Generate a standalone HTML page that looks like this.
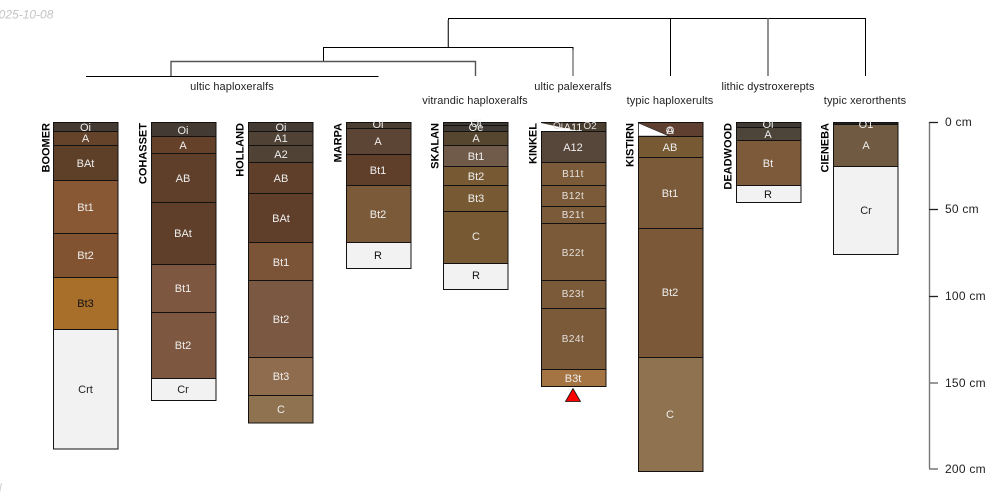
<!DOCTYPE html>
<html><head><meta charset="utf-8"><style>
html,body{margin:0;padding:0;background:#fff}
svg{display:block}
text{font-family:"Liberation Sans",sans-serif;font-size:11px}
text.l{fill:#eee;text-anchor:middle}
text.d{fill:#222;text-anchor:middle}
text.k{fill:#111;text-anchor:middle}
text.s{font-size:10px;letter-spacing:.5px;fill:#e4e0dc}
text.n{font-weight:bold;text-anchor:end;fill:#000;font-size:11px}
text.t{fill:#222;text-anchor:middle;letter-spacing:.1px}
text.a{fill:#222;font-size:12px;letter-spacing:.25px}
rect{stroke:#141210;stroke-width:1}
</style></head><body>
<svg width="1000" height="500" viewBox="0 0 1000 500" xmlns="http://www.w3.org/2000/svg">
<g fill="none" stroke="#000" stroke-width="1">
<path d="M448.5 47V18.5H865.5V76"/><path d="M670.5 18.5V76"/>
<path d="M768 18.5V76" stroke="#777" stroke-width="1.6"/>
<path d="M323.5 61V47.5H573V76"/><path d="M573 50V76" stroke="#777" stroke-width="1.4"/>
<path d="M448 20V47" stroke="#777" stroke-width="1"/>
<path d="M171 76V61.5H475.5V76" stroke="#555" stroke-width="1.4"/>
<path d="M86 76.5H378.5"/>
<path d="M929.5 122V468.5M929 122.5H938M929 209.5H938M929 296.5H938M929 383H938M929 469H938" stroke="#777" stroke-width="1.4"/>
<path d="M929 122.5H938M929 209.5H938M929 296.5H938" stroke="#222"/>
</g>
<text class="t" x="232" y="90">ultic haploxeralfs</text>
<text class="t" x="475" y="104">vitrandic haploxeralfs</text>
<text class="t" x="573" y="90">ultic palexeralfs</text>
<text class="t" x="670" y="104">typic haploxerults</text>
<text class="t" x="768" y="90">lithic dystroxerepts</text>
<text class="t" x="865" y="104">typic xerorthents</text>
<text x="-8" y="18.5" style="font-size:12px;fill:#c4c4c4;font-style:italic">2025-10-08</text>
<text x="-1" y="492" style="font-size:12px;fill:#d0d0d0;font-style:italic">l</text>

<g transform="translate(49.5,123) rotate(-90)"><text class="n">BOOMER</text></g>
<g transform="translate(146.5,123) rotate(-90)"><text class="n">COHASSET</text></g>
<g transform="translate(243.5,123) rotate(-90)"><text class="n">HOLLAND</text></g>
<g transform="translate(341.5,123) rotate(-90)"><text class="n">MARPA</text></g>
<g transform="translate(438.5,123) rotate(-90)"><text class="n">SKALAN</text></g>
<g transform="translate(536.5,123) rotate(-90)"><text class="n">KINKEL</text></g>
<g transform="translate(633.5,123) rotate(-90)"><text class="n">KISTIRN</text></g>
<g transform="translate(731.5,123) rotate(-90)"><text class="n">DEADWOOD</text></g>
<g transform="translate(828.5,123) rotate(-90)"><text class="n">CIENEBA</text></g>

<!-- BOOMER -->
<rect x="53.5" y="122.5" width="64.5" height="9" fill="#433a33"/>
<rect x="53.5" y="131.5" width="64.5" height="14" fill="#65432a"/>
<rect x="53.5" y="145.5" width="64.5" height="35" fill="#5e4028"/>
<rect x="53.5" y="180.5" width="64.5" height="53" fill="#885733"/>
<rect x="53.5" y="233.5" width="64.5" height="44" fill="#825330"/>
<rect x="53.5" y="277.5" width="64.5" height="52" fill="#a86f2b"/>
<rect x="53.5" y="329.5" width="64.5" height="119.5" fill="#f2f2f2"/>
<text class="l" x="85.5" y="131">Oi</text><text class="l" x="85.5" y="142">A</text><text class="l" x="85.5" y="167">BAt</text><text class="l" x="85.5" y="211">Bt1</text><text class="l" x="85.5" y="259">Bt2</text><text class="k" x="85.5" y="307">Bt3</text><text class="d" x="85.5" y="393">Crt</text>

<!-- COHASSET -->
<rect x="151.5" y="122.5" width="64.5" height="14" fill="#433a33"/>
<rect x="151.5" y="136.5" width="64.5" height="17" fill="#65412a"/>
<rect x="151.5" y="153.5" width="64.5" height="49" fill="#5f3f2a"/>
<rect x="151.5" y="202.5" width="64.5" height="62" fill="#5f3f2a"/>
<rect x="151.5" y="264.5" width="64.5" height="48" fill="#7d573f"/>
<rect x="151.5" y="312.5" width="64.5" height="66" fill="#7d573f"/>
<rect x="151.5" y="378.5" width="64.5" height="22" fill="#f2f2f2"/>
<text class="l" x="183" y="134">Oi</text><text class="l" x="183" y="149">A</text><text class="l" x="183" y="182">AB</text><text class="l" x="183" y="237">BAt</text><text class="l" x="183" y="292">Bt1</text><text class="l" x="183" y="349">Bt2</text><text class="d" x="183" y="393">Cr</text>

<!-- HOLLAND -->
<rect x="248.5" y="122.5" width="64.5" height="9" fill="#433a33"/>
<rect x="248.5" y="131.5" width="64.5" height="14" fill="#504234"/>
<rect x="248.5" y="145.5" width="64.5" height="17" fill="#504234"/>
<rect x="248.5" y="162.5" width="64.5" height="31" fill="#5f3f2a"/>
<rect x="248.5" y="193.5" width="64.5" height="49" fill="#5f3f2a"/>
<rect x="248.5" y="242.5" width="64.5" height="38" fill="#7b5438"/>
<rect x="248.5" y="280.5" width="64.5" height="77" fill="#7b5842"/>
<rect x="248.5" y="357.5" width="64.5" height="38" fill="#8f6c4e"/>
<rect x="248.5" y="395.5" width="64.5" height="27.5" fill="#8f7350"/>
<text class="l" x="281" y="131">Oi</text><text class="l" x="281" y="142">A1</text><text class="l" x="281" y="158">A2</text><text class="l" x="281" y="182">AB</text><text class="l" x="281" y="222">BAt</text><text class="l" x="281" y="266">Bt1</text><text class="l" x="281" y="323">Bt2</text><text class="l" x="281" y="380">Bt3</text><text class="l" x="281" y="413">C</text>

<!-- MARPA -->
<rect x="346.5" y="122.5" width="64.5" height="6" fill="#4a3e33"/>
<rect x="346.5" y="128.5" width="64.5" height="26" fill="#5c4534"/>
<rect x="346.5" y="154.5" width="64.5" height="31" fill="#5f3f2a"/>
<rect x="346.5" y="185.5" width="64.5" height="57" fill="#7b5a3a"/>
<rect x="346.5" y="242.5" width="64.5" height="26" fill="#f2f2f2"/>
<text class="l" x="378" y="128">Oi</text><text class="l" x="378" y="145">A</text><text class="l" x="378" y="174">Bt1</text><text class="l" x="378" y="218">Bt2</text><text class="k" x="378" y="259">R</text>

<!-- SKALAN -->
<rect x="443.5" y="122.5" width="64.5" height="3" fill="#3e3a33"/>
<rect x="443.5" y="125.5" width="64.5" height="6" fill="#3e3a33"/>
<rect x="443.5" y="131.5" width="64.5" height="14" fill="#57462f"/>
<rect x="443.5" y="145.5" width="64.5" height="21" fill="#705b4b"/>
<rect x="443.5" y="166.5" width="64.5" height="19" fill="#775a33"/>
<rect x="443.5" y="185.5" width="64.5" height="26" fill="#775a33"/>
<rect x="443.5" y="211.5" width="64.5" height="52" fill="#775a33"/>
<rect x="443.5" y="263.5" width="64.5" height="26" fill="#f2f2f2"/>
<text class="l" x="476" y="127">Oi</text><text class="l" x="476" y="131">Oe</text><text class="l" x="476" y="142">A</text><text class="l" x="476" y="160">Bt1</text><text class="l" x="476" y="180">Bt2</text><text class="l" x="476" y="202">Bt3</text><text class="l" x="476" y="240">C</text><text class="k" x="476" y="279">R</text>

<!-- KINKEL -->
<rect x="541.5" y="122.5" width="64.5" height="9" fill="#4a3e30"/>
<polygon points="541,123 541,131 578,131" fill="#fff"/>
<rect x="541.5" y="131.5" width="64.5" height="31" fill="#57463a"/>
<rect x="541.5" y="162.5" width="64.5" height="23" fill="#7b5a3a"/>
<rect x="541.5" y="185.5" width="64.5" height="21" fill="#7b5a3a"/>
<rect x="541.5" y="206.5" width="64.5" height="17" fill="#7b5a3a"/>
<rect x="541.5" y="223.5" width="64.5" height="57" fill="#7b5a3a"/>
<rect x="541.5" y="280.5" width="64.5" height="28" fill="#7b5a3a"/>
<rect x="541.5" y="308.5" width="64.5" height="61" fill="#7b5a3a"/>
<rect x="541.5" y="369.5" width="64.5" height="17" fill="#a57443"/>
<text class="l" x="558" y="129" style="font-size:10px;fill:#ddd">Oi</text><text class="l" x="573" y="131">A11</text><text class="l" x="590" y="129" style="font-size:10px;fill:#ddd">O2</text>
<text class="l" x="573" y="151">A12</text><text class="l s" x="573" y="177">B11t</text><text class="l s" x="573" y="199">B12t</text><text class="l s" x="573" y="218">B21t</text><text class="l s" x="573" y="256">B22t</text><text class="l s" x="573" y="297">B23t</text><text class="l s" x="573" y="342">B24t</text><text class="l" x="573" y="382">B3t</text>
<polygon points="573,388.5 565.5,401.5 580.5,401.5" fill="#f00" stroke="#111" stroke-width="0.8"/>

<!-- KISTIRN -->
<rect x="638.5" y="122.5" width="64.5" height="14" fill="#5f3f30"/>
<polygon points="638.5,123 638.5,136 669,136" fill="#fff" stroke="#222" stroke-width="0.6"/>
<rect x="638.5" y="136.5" width="64.5" height="21" fill="#775a33"/>
<rect x="638.5" y="157.5" width="64.5" height="71" fill="#7b5a3a"/>
<rect x="638.5" y="228.5" width="64.5" height="129" fill="#7b5838"/>
<rect x="638.5" y="357.5" width="64.5" height="114" fill="#8f7350"/>
<text class="l" x="670" y="134">O</text><text class="l" x="670" y="134">A</text><text class="l" x="670" y="151">AB</text><text class="l" x="670" y="197">Bt1</text><text class="l" x="670" y="296">Bt2</text><text class="l" x="670" y="418">C</text>

<!-- DEADWOOD -->
<rect x="736.5" y="122.5" width="64.5" height="5" fill="#3f3a33"/>
<rect x="736.5" y="127.5" width="64.5" height="13" fill="#4e453a"/>
<rect x="736.5" y="140.5" width="64.5" height="45" fill="#7d5a3a"/>
<rect x="736.5" y="185.5" width="64.5" height="17" fill="#f2f2f2"/>
<text class="l" x="768" y="128">Oi</text><text class="l" x="768" y="138">A</text><text class="l" x="768" y="167">Bt</text><text class="k" x="768" y="198">R</text>

<!-- CIENEBA -->
<rect x="833.5" y="122.5" width="64.5" height="2" fill="#222"/>
<rect x="833.5" y="124.5" width="64.5" height="42" fill="#705a42"/>
<rect x="833.5" y="166.5" width="64.5" height="88" fill="#f2f2f2"/>
<text class="l" x="866" y="128">O1</text><text class="l" x="866" y="149">A</text><text class="d" x="866" y="214">Cr</text>

<text class="a" x="945" y="126">0 cm</text>
<text class="a" x="945" y="213">50 cm</text>
<text class="a" x="945" y="300">100 cm</text>
<text class="a" x="945" y="387">150 cm</text>
<text class="a" x="945" y="473">200 cm</text>
</svg>
</body></html>
